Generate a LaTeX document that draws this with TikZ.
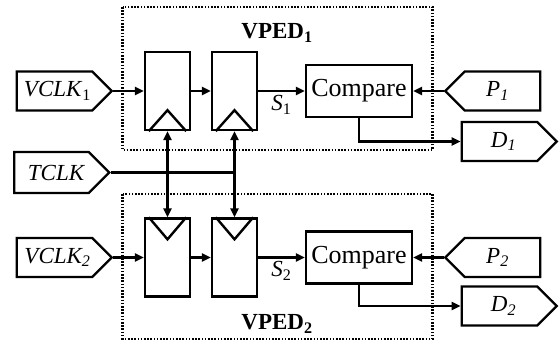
\documentclass[tikz,border=0pt]{standalone}
\usepackage{fontspec}
\setmainfont{Liberation Serif}
\usetikzlibrary{arrows.meta,shapes.symbols}

\begin{document}
\begin{tikzpicture}[x=1pt,y=-1pt,line width=2.4pt,
		>={Triangle[length=9pt,width=8pt]},
		tagin/.style={draw,signal,signal to=east,signal pointer angle=90,
			minimum width=95pt,minimum height=39pt,inner sep=0pt},
		tagout/.style={tagin,signal to=west},
		tagtext/.style={inner sep=0pt,font=\fontsize{23}{23}\selectfont},
		ffbox/.style={draw,minimum width=45pt,minimum height=78pt,inner sep=0pt},
		cmpbox/.style={draw,minimum width=106pt,minimum height=52pt,inner sep=0pt,
			font=\fontsize{26}{26}\selectfont},
		unitbox/.style={draw,line width=2.2pt,dash pattern=on 1.6pt off 1.6pt},
		unitlabel/.style={font=\fontsize{23}{23}\selectfont\bfseries}]
		\useasboundingbox (0,0) rectangle (559,341);
		% VPED 1
		\draw[unitbox](122.5,7) rectangle (432.5,150);
		\node[unitlabel] (vped1) at (277,33) {VPED\textsubscript{1}};
		\node[tagin] (vclk1) at (54.5,91) {};
		\node[tagtext] (vclk1t) at ([xshift=3pt]vclk1.center) {\textit{VCLK}\textsubscript{1}};
		\node[ffbox] (ff11) at (167.5,91) {};
		\node[ffbox] (ff12) at (234.5,91) {};
		\draw([xshift=5pt]ff11.south west) -- ([yshift=21pt]ff11.south) -- ([xshift=-5pt]ff11.south east);
		\draw([xshift=5pt]ff12.south west) -- ([yshift=21pt]ff12.south) -- ([xshift=-5pt]ff12.south east);
		\node[cmpbox] (cmp1) at (359,91) {Compare};
		\node[tagout] (p1) at (502.5,91) {};
		\node[tagtext] (p1t) at ([xshift=-5pt]p1.center) {\textit{P\textsubscript{1}}};
		\node[tagin] (d1) at (499.5,141.5) {};
		\node[tagtext] (d1t) at ([xshift=4pt]d1.center) {\textit{D\textsubscript{1}}};
		\draw[->](vclk1) -- (ff11);
		\draw[->](ff11) -- (ff12);
		\draw[->](ff12) -- node[below=3pt,tagtext] (s1) {\textit{S}\textsubscript{1}} (cmp1);
		\draw[->](p1) -- (cmp1);
		\draw[->](cmp1.south) |- (d1.west);
		% clock
		\node[tagin,minimum height=41pt] (tclk) at (51.5,172.5) {};
		\node[tagtext] (tclkt) at ([xshift=5pt]tclk.center) {\textit{TCLK}};
		% VPED 2
		\draw[unitbox](122.5,194) rectangle (432.5,339);
		\node[unitlabel] (vped2) at (277,324) {VPED\textsubscript{2}};
		\node[tagin] (vclk2) at (54.5,257.5) {};
		\node[tagtext] (vclk2t) at ([xshift=3pt]vclk2.center) {\textit{VCLK\textsubscript{2}}};
		\node[ffbox] (ff21) at (167.5,257.5) {};
		\node[ffbox] (ff22) at (234.5,257.5) {};
		\draw([xshift=5pt]ff21.north west) -- ([yshift=-22pt]ff21.north) -- ([xshift=-5pt]ff21.north east);
		\draw([xshift=5pt]ff22.north west) -- ([yshift=-22pt]ff22.north) -- ([xshift=-5pt]ff22.north east);
		\node[cmpbox] (cmp2) at (359,257.5) {Compare};
		\node[tagout] (p2) at (502.5,257.5) {};
		\node[tagtext] (p2t) at ([xshift=-5pt]p2.center) {\textit{P\textsubscript{2}}};
		\node[tagin] (d2) at (499.5,306) {};
		\node[tagtext] (d2t) at ([xshift=4pt]d2.center) {\textit{D\textsubscript{2}}};
		\draw[->](vclk2) -- (ff21);
		\draw[->](ff21) -- (ff22);
		\draw[->](ff22) -- node[below=3pt,tagtext] (s2) {\textit{S}\textsubscript{2}} (cmp2);
		\draw[->](p2) -- (cmp2);
		\draw[->](cmp2.south) |- (d2.west);
		% clock lines
		\draw[<->](ff11.south) -- (ff21.north);
		\draw[<->](ff12.south) -- (ff22.north);
		\draw(tclk.east) -- (tclk.east -| ff12.south);
	\end{tikzpicture}
\end{document}
